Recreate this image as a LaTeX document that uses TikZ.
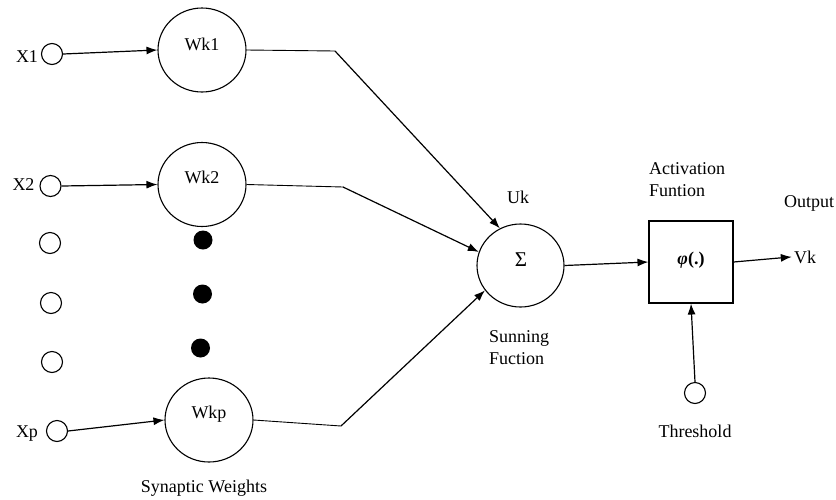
\documentclass[tikz,border=0pt]{standalone}
\usepackage{fontspec}
\setmainfont{Liberation Serif}
\usetikzlibrary{shapes.geometric,arrows.meta}
\begin{document}
\begin{tikzpicture}[x=1pt,y=-1pt,
  every node/.style={font=\fontsize{18}{21}\selectfont, inner sep=0pt},
  txt/.style={anchor=base},
  ltxt/.style={anchor=base west},
  weight/.style={draw, ellipse, line width=1.1pt, minimum width=88pt, minimum height=84pt},
  inport/.style={draw, circle, line width=1.1pt, minimum size=21pt},
  blob/.style={fill=black, circle, minimum size=19pt},
  sumnode/.style={draw, ellipse, line width=1.1pt, minimum width=87pt, minimum height=83pt},
  actbox/.style={draw, rectangle, line width=1.1pt, minimum width=84pt, minimum height=82pt},
  arr/.style={-{Latex[length=11pt,width=8pt]}, line width=1.2pt},
  wire/.style={line width=0.9pt}
]
\useasboundingbox (0,0) rectangle (836,499);

% inputs
\node[inport] (x1) at (52,54) {};
\node[inport] (x2) at (50.5,186) {};
\node[inport] (x3) at (50,243) {};
\node[inport] (x4) at (51,303) {};
\node[inport] (x5) at (52,362) {};
\node[inport] (xp) at (57,431) {};
\node[txt] (lx1) at (27,62) {X1};
\node[txt] (lx2) at (23.5,190) {X2};
\node[txt] (lxp) at (27,437) {Xp};

% synaptic weights
\node[weight] (w1) at (202,50) {};
\node[weight] (w2) at (202,184.5) {};
\node[weight] (wp) at (209,420) {};
\node[txt] (lw1) at (202,50) {Wk1};
\node[txt] (lw2) at (202,183) {Wk2};
\node[txt] (lwp) at (209,418) {Wkp};
\node[blob] (d1) at (203,240) {};
\node[blob] (d2) at (202.5,294) {};
\node[blob] (d3) at (200.5,348) {};
\node[txt] (syn) at (204,492) {Synaptic Weights};

% summing junction
\node[sumnode] (sum) at (520.5,265.5) {};
\node[txt, font=\fontsize{21}{24}\selectfont] (sig) at (521,266) {Σ};
\node[txt] (uk) at (518,203) {Uk};
\node[ltxt] (sun1) at (489,342) {Sunning};
\node[ltxt] (sun2) at (489,364) {Fuction};

% activation
\node[actbox] (act) at (691,262) {};
\node[txt] (phi) at (691,264) {{\bfseries\itshape φ}{\bfseries(.)}};
\node[ltxt] (act1) at (649,174) {Activation};
\node[ltxt] (act2) at (649,196) {Funtion};
\node[ltxt] (outl) at (784,207) {Output};
\node[txt] (vk) at (805,263) {Vk};
\node[inport] (thr) at (695,393) {};
\node[txt] (thl) at (695,437) {Threshold};

% bend points of the weight outputs
\coordinate (b1) at (335,51);
\coordinate (b2) at (343,187);
\coordinate (bp) at (341,426);

% connectors
\draw[arr] (x1.east) -- (w1.west);
\draw[arr] (x2.east) -- (w2.west);
\draw[arr] (xp.east) -- (wp.west);
\draw[wire] (w1.east) -- (b1);
\draw[wire] (w2.east) -- (b2);
\draw[wire] (wp.east) -- (bp);
\draw[arr] (b1) -- (sum.119);
\draw[arr] (b2) -- (sum.162);
\draw[arr] (bp) -- (sum.215);
\draw[arr] (sum.east) -- (act.west);
\draw[arr] (act.east) -- ([xshift=-2pt]vk.west);
\draw[arr] (thr.north) -- (act.south);
\end{tikzpicture}
\end{document}
